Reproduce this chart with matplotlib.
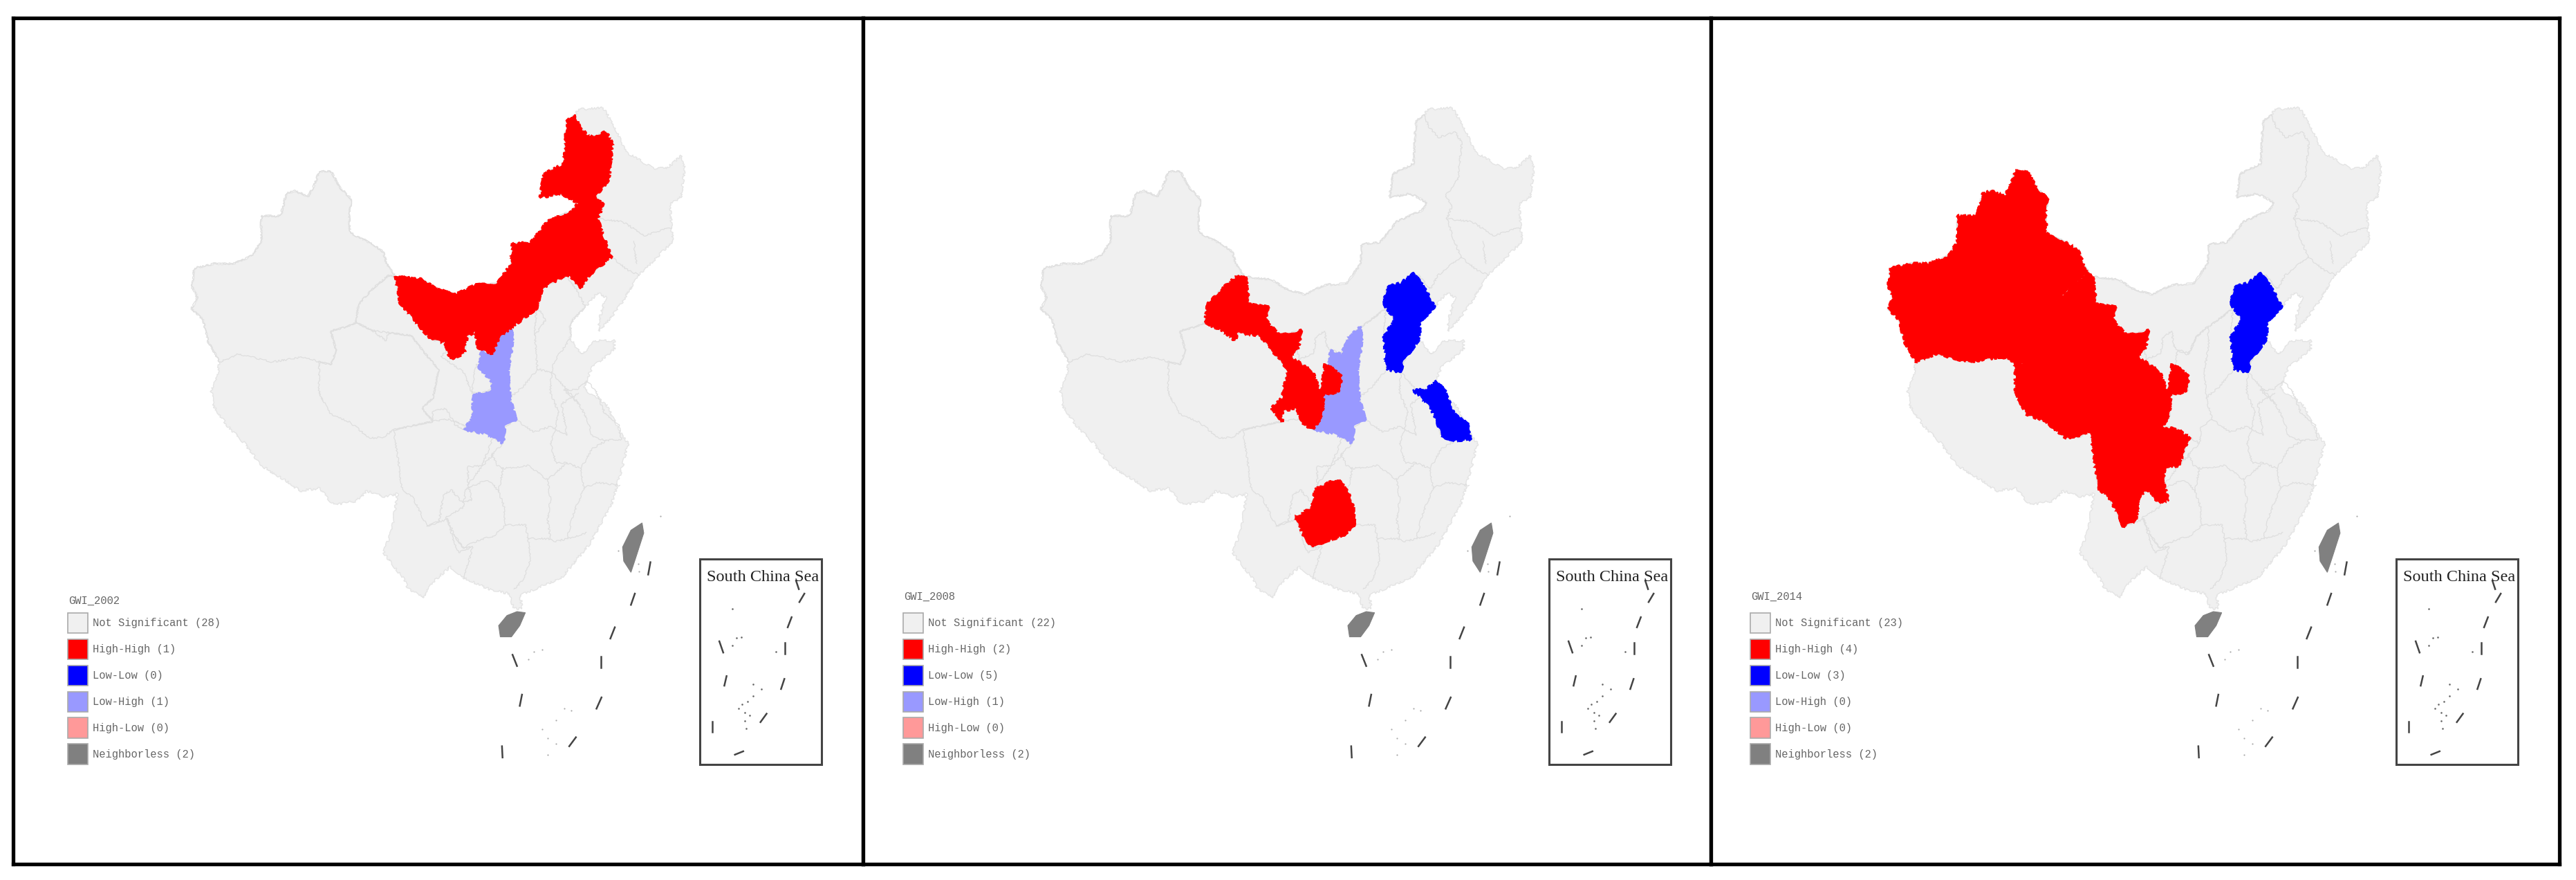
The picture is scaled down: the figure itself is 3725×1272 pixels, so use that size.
import matplotlib
matplotlib.use("Agg")
import matplotlib.pyplot as plt
from matplotlib.patches import Polygon, Rectangle

W, H = 3725, 1272
SX, SY = 1.244, 1.233   # map units per pixel

# outlines, in map units (y goes down)
mainland = [(1040,195),(1085,192),(1105,225),(1125,270),(1175,300),(1200,300),(1225,278),(1232,300),(1225,350),
            (1205,365),(1210,430),(1170,470),(1150,490),(1118,540),(1100,565),(1078,590),(1078,570),(1090,530),
            (1075,522),(1053,547),(1026,575),(1026,603),(1046,632),(1071,607),(1105,607),(1105,622),(1065,655),
            (1050,690),(1060,700),(1090,720),(1115,770),(1130,790),(1120,830),(1100,900),(1060,970),(1010,1030),
            (950,1055),(935,1060),(940,1085),(925,1085),(915,1058),(880,1050),(835,1030),(810,1010),(770,1045),
            (762,1065),(735,1050),(725,1030),(690,985),(705,945),(715,880),(690,885),(660,875),(640,893),(600,900),
            (575,870),(540,875),(520,860),(470,830),(440,790),(410,760),(385,725),(380,695),(392,665),(395,645),
            (375,610),(365,570),(345,550),(355,530),(345,510),(350,478),(385,470),(420,470),(455,455),(470,430),
            (470,385),(505,385),(515,345),(530,340),(555,350),(565,330),(575,305),(595,305),(612,335),(632,355),
            (628,385),(630,415),(670,435),(690,450),(695,470),(712,493),(760,498),(785,515),(820,525),(855,508),
            (895,505),(920,470),(922,435),(955,432),(985,395),(1030,375),(1040,362),(1010,345),(972,352),(978,310),
            (1015,292),(1018,240),(1020,215),(1035,205)]

inner_mongolia = [(712,493),(760,498),(785,515),(820,525),(855,508),(895,505),(920,470),(922,435),(955,432),(985,395),
                  (1030,375),(1040,362),(1010,345),(972,352),(978,310),(1015,292),(1018,240),(1020,215),(1035,205),
                  (1042,225),(1060,245),(1090,235),(1102,255),(1095,320),(1072,350),(1085,365),(1075,390),(1085,420),
                  (1100,458),(1060,490),(1045,515),(1025,490),(1000,500),(975,515),(965,550),(925,580),(900,600),
                  (885,630),(860,620),(855,590),(840,600),(835,630),(810,640),(800,610),(775,605),(745,570),(720,540)]
shaanxi = [(920,582),(922,612),(914,660),(917,709),(928,748),(908,760),(905,790),(878,774),(835,765),(850,745),
           (852,705),(885,695),(885,680),(862,655),(865,625),(885,632),(900,600)]
gansu = [(699,491),(714,496),(719,542),(754,547),(749,570),(774,598),(813,589),(808,621),(793,635),(834,663),(845,692),
         (853,705),(851,746),(833,765),(818,756),(803,728),(779,732),(779,751),(759,728),(779,709),(789,658),(769,635),
         (739,598),(699,593),(694,607),(670,589),(640,575),(645,542),(670,515)]
ningxia = [(856,649),(868,656),(885,670),(883,695),(868,702),(849,700),(853,672)]
xinjiang = [(712,493),(695,470),(690,450),(670,435),(630,415),(628,385),(632,355),(612,335),(595,305),(575,305),(565,330),
            (555,350),(530,340),(515,345),(505,385),(470,385),(470,430),(455,455),(420,470),(385,470),(350,478),(345,510),
            (355,530),(345,550),(365,570),(375,610),(395,645),(430,631),(490,645),(549,636),(574,645),(595,650),(605,625),
            (595,590),(625,582),(640,575),(645,542),(670,515),(699,491)]
qinghai = [(640,575),(670,589),(699,593),(739,598),(769,635),(789,658),(779,709),(759,728),(779,751),(708,766),(688,780),
           (664,780),(629,752),(594,738),(574,701),(574,645),(595,650),(605,625),(595,590),(625,582)]
sichuan = [(708,766),(718,831),(723,873),(743,887),(768,938),(790,929),(798,882),(812,873),(832,896),(849,891),(842,864),
           (842,831),(867,831),(887,780),(867,766),(842,761),(807,747),(779,751)]
# middle of the west block, where the 2014 regions meet
west_block = [(620,590),(670,520),(740,560),(800,650),(845,745),(830,775),(708,770),(640,700)]
guizhou = [(868,858),(883,858),(897,876),(907,904),(909,936),(888,955),(858,964),(833,976),(818,955),(803,922),(833,904),(838,872)]
hebei = [(1016,487),(1036,515),(1053,547),(1026,575),(1026,603),(997,644),(992,663),(967,658),(962,598),(982,570),(962,542),
         (967,510),(992,505)]
jiangsu = [(1056,680),(1071,695),(1088,737),(1113,756),(1117,783),(1091,785),(1066,779),(1056,746),(1041,719),(1014,695),(1036,695)]
taiwan = [(1155,932),(1158,950),(1145,990),(1135,1020),(1122,1000),(1120,975),(1135,945)]
hainan = [(945,1092),(935,1115),(920,1135),(900,1135),(897,1115),(912,1097),(930,1090)]

provinces = [inner_mongolia, shaanxi, gansu, ningxia, xinjiang, qinghai, sichuan, guizhou, hebei, jiangsu]

other_borders = [
    [(1075,390),(1120,395),(1160,420),(1208,405)],
    [(1100,458),(1130,482),(1150,490)],
    [(1140,430),(1145,470)],
    [(925,580),(965,550),(962,598)],
    [(967,658),(940,690),(917,709)],
    [(992,663),(990,700),(1005,735),(1000,760),(990,790)],
    [(928,748),(960,770),(990,760),(1020,775)],
    [(992,663),(1020,695),(1041,719)],
    [(905,790),(885,810),(895,830),(905,835),(950,830),(985,855),(990,890),(985,925),(990,960)],
    [(842,864),(867,831),(887,810)],
    [(897,876),(905,835)],
    [(768,938),(805,925),(815,960),(825,985),(850,975)],
    [(818,955),(833,976),(850,975),(835,1030)],
    [(909,936),(945,935),(950,960),(955,995),(940,1035),(925,1050)],
    [(950,960),(985,960),(1000,965),(1020,960),(1055,950)],
    [(985,855),(1020,825),(1045,835),(1050,870),(1030,920),(1020,960)],
    [(990,790),(1000,825),(1020,825)],
    [(1020,775),(1010,720),(1040,700)],
    [(1045,835),(1065,800),(1091,785)],
    [(1050,870),(1075,860),(1115,865)],
]

# nine dashes of the main map and of the inset
dashes = [[(1170,1002),(1166,1024)],[(1142,1058),(1135,1078)],[(1106,1118),(1098,1138)],[(1081,1170),(1081,1190)],
          [(1082,1243),(1073,1263)],[(1036,1314),(1024,1330)],[(922,1167),(930,1187)],[(939,1238),(935,1258)],
          [(903,1330),(904,1350)]]
inset_dashes = [[(1447,1058),(1438,1073)],[(1424,1100),(1417,1118)],[(1412,1146),(1412,1165)],[(1411,1210),(1405,1228)],
                [(1379,1272),(1368,1287)],[(1337,1339),(1322,1345)],[(1281,1286),(1281,1305)],[(1307,1205),(1303,1222)],
                [(1294,1143),(1301,1163)],[(1432,1035),(1437,1050)]]
islets_x = [1188,960,975,950,1148,1150,1112,1015,1028,1000,975,985,1000,985]
islets_y = [920,1162,1158,1175,1005,1018,982,1262,1266,1283,1300,1315,1325,1345]
inset_islets_x = [1317,1333,1325,1318,1396,1355,1355,1370,1345,1335,1328,1340,1348,1340,1342]
inset_islets_y = [1085,1135,1137,1150,1161,1220,1240,1228,1250,1255,1262,1270,1275,1285,1298]

years = ["GWI_2002", "GWI_2008", "GWI_2014"]
categories = ["Not Significant", "High-High", "Low-Low", "Low-High", "High-Low", "Neighborless"]
counts_2002 = [28, 1, 0, 1, 0, 2]
counts_2008 = [22, 2, 5, 1, 0, 2]
counts_2014 = [23, 4, 3, 0, 0, 2]
counts = [counts_2002, counts_2008, counts_2014]
colors = ["#f0f0f0", "#ff0000", "#0000ff", "#9999ff", "#ff9999", "#808080"]

low_high = [[shaanxi], [shaanxi], []]
high_high = [[inner_mongolia], [gansu, ningxia, guizhou], [xinjiang, qinghai, gansu, ningxia, sichuan, west_block]]
low_low = [[], [hebei, jiangsu], [hebei]]

# panel edges in pixels, shift of the map and of the legend inside each panel
left_px = [19, 1248, 2474]
right_px = [1248, 2474, 3701]
map_shift = [0, 1228, 2453]
legend_shift = [0, -25, -25]
title_shift = [0, -8, -8]

fig = plt.figure(figsize=(W / 100, H / 100), dpi=100, facecolor="white")
top_px, bottom_px = 26, 1249


def draw_regions(ax, regions, color):
    for r in regions:
        p = Polygon(r, closed=True, facecolor=color, edgecolor=color, linewidth=1.6, zorder=3)
        p.set_sketch_params(scale=1.8, length=18, randomness=24)
        ax.add_patch(p)


for i in range(3):
    ax = fig.add_axes([left_px[i] / W, 1 - bottom_px / H, (right_px[i] - left_px[i]) / W, (bottom_px - top_px) / H])
    ax.set_xlim((left_px[i] - map_shift[i]) * SX, (right_px[i] - map_shift[i]) * SX)
    ax.set_ylim(bottom_px * SY, top_px * SY)
    ax.set_xticks([])
    ax.set_yticks([])
    for s in ax.spines.values():
        s.set_linewidth(3.8)
        s.set_color("black")

    base = Polygon(mainland, closed=True, facecolor=colors[0], edgecolor="#e4e4e4", linewidth=1.0, zorder=1)
    base.set_sketch_params(scale=1.6, length=14, randomness=24)
    ax.add_patch(base)
    for prov in provinces:
        pr = Polygon(prov, closed=True, facecolor="none", edgecolor="#dedede", linewidth=0.9, zorder=2)
        pr.set_sketch_params(scale=1.2, length=14, randomness=24)
        ax.add_patch(pr)
    for b in other_borders:
        xs, ys = zip(*b)
        line, = ax.plot(xs, ys, color="#dedede", lw=0.9, zorder=2)
        line.set_sketch_params(1.2, 14, 24)

    draw_regions(ax, low_high[i], colors[3])
    draw_regions(ax, low_low[i], colors[2])
    draw_regions(ax, high_high[i], colors[1])
    ax.add_patch(Polygon(taiwan, closed=True, facecolor=colors[5], edgecolor=colors[5], lw=0.8, zorder=3))
    ax.add_patch(Polygon(hainan, closed=True, facecolor=colors[5], edgecolor=colors[5], lw=0.8, zorder=3))

    for d in dashes + inset_dashes:
        xs, ys = zip(*d)
        ax.plot(xs, ys, color="#444444", lw=1.8, zorder=4)
    ax.scatter(islets_x, islets_y, s=2.5, color="#aaaaaa", linewidths=0, zorder=4)
    ax.scatter(inset_islets_x, inset_islets_y, s=3.5, color="#666666", linewidths=0, zorder=4)

    # inset box
    ax.add_patch(Rectangle((1259, 996), 219, 366, facecolor="none", edgecolor="#444444", lw=2.2, zorder=4))
    ax.text(1372, 1029, "South China Sea", family="Liberation Serif", fontsize=17.5, color="#222222",
            ha="center", va="center", zorder=5)

    # legend
    lx = 122 + legend_shift[i]
    ax.text(lx + 1, 1071 + title_shift[i], years[i], family="Liberation Mono", fontsize=11.2, color="#666666",
            va="center", ha="left", zorder=5)
    for j, name in enumerate(categories):
        yc = 1110 + j * 46.8
        ax.add_patch(Rectangle((lx, yc - 18), 36, 36, facecolor=colors[j], edgecolor="#aaaaaa", lw=1.2, zorder=4))
        ax.text(lx + 45, yc, "%s (%d)" % (name, counts[i][j]), family="Liberation Mono", fontsize=11.2,
                color="#666666", va="center", ha="left", zorder=5)

fig.savefig("out.png", dpi=100)
